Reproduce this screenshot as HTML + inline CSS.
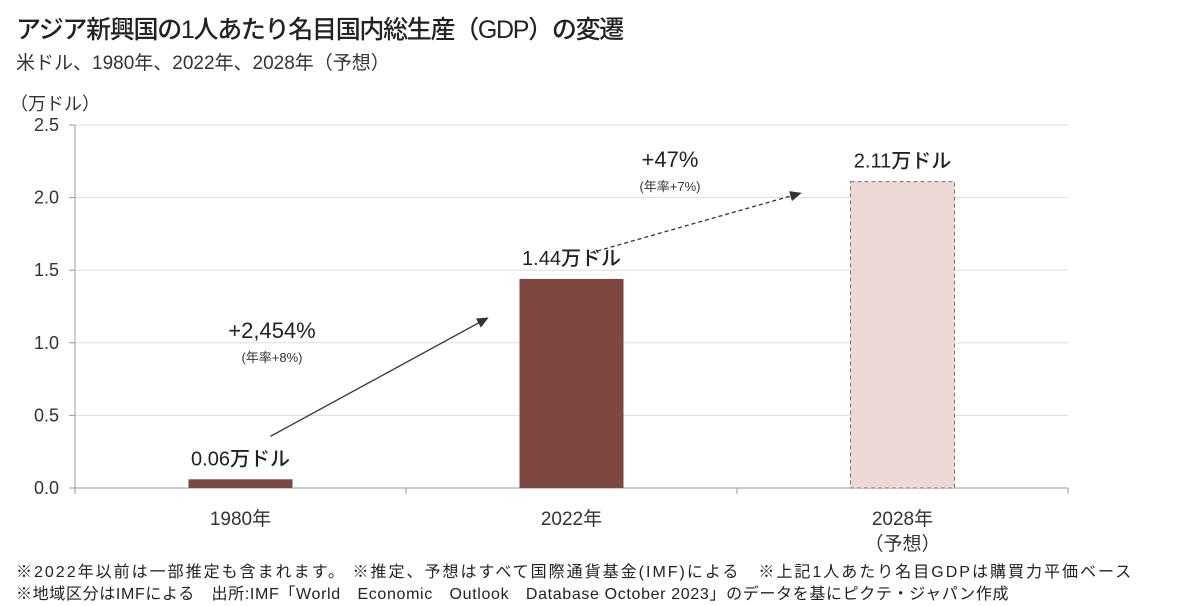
<!DOCTYPE html>
<html><head><meta charset="utf-8"><style>
body{margin:0;background:#fff;width:1200px;height:606px;overflow:hidden;font-family:"Liberation Sans","Noto Sans CJK JP",sans-serif;color:#222}
.t{position:absolute;white-space:nowrap}
</style></head><body>
<div class="t" style="left:16px;top:10px;font-size:25px;font-weight:500;letter-spacing:-1.3px">アジア新興国の1人あたり名目国内総生産（GDP）の変遷</div>
<div class="t" style="left:16px;top:48px;font-size:19px;color:#333">米ドル、1980年、2022年、2028年（予想）</div>
<div class="t" style="left:10px;top:90px;font-size:18px;color:#333">（万ドル）</div>
<svg id="c" width="1200" height="606" style="position:absolute;left:0;top:0">
<defs><marker id="ah" markerWidth="10" markerHeight="10" refX="8" refY="5" orient="auto"><path d="M0,1 L9,5 L0,9 z" fill="#333"/></marker></defs>
</svg>
<div class="t" style="left:16px;top:558px;font-size:16px;color:#222;letter-spacing:2px">※2022年以前は一部推定も含まれます。 ※推定、予想はすべて国際通貨基金(IMF)による　※上記1人あたり名目GDPは購買力平価ベース</div>
<div class="t" style="left:16px;top:580px;font-size:16px;color:#222;letter-spacing:0.65px">※地域区分はIMFによる　出所:IMF「World　Economic　Outlook　Database October 2023」のデータを基にピクテ・ジャパン作成</div>
<script>
const categories=["1980年","2022年","2028年"];
const values=[0.06,1.44,2.11];
const valueLabels=["0.06万ドル","1.44万ドル","2.11万ドル"];
const yTicks=[0,0.5,1.0,1.5,2.0,2.5];
const growthLabels=["+2,454%","+47%"];
const annualLabels=["(年率+8%)","(年率+7%)"];
const svg=document.getElementById('c');const NS="http://www.w3.org/2000/svg";
const x0=75,x1=1068,y0=488,yTop=125;
const cw=(x1-x0)/categories.length;
const y=v=>y0-(v/2.5)*(y0-yTop);
const cx=i=>x0+cw*(i+0.5);
function mk(t,a){const e=document.createElementNS(NS,t);for(const k in a)e.setAttribute(k,a[k]);svg.appendChild(e);return e;}
yTicks.forEach(v=>{
 const g=mk('line',{x1:x0,x2:x1,y1:y(v),y2:y(v),stroke:v===0?'#999':'#ddd','stroke-width':1});
 
 
 const tk=mk('line',{x1:x0-6,x2:x0,y1:y(v),y2:y(v),stroke:'#999'});
 
 
 const t=mk('text',{x:x0-16,y:y(v)+6,'text-anchor':'end','font-size':18,fill:'#333'});t.textContent=v.toFixed(1);
 
 
});
const ax=mk('line',{x1:x0,x2:x0,y1:yTop,y2:y0+6,stroke:'#999'});


categories.forEach((c,i)=>{
 const tk=mk('line',{x1:x0+cw*(i+1),x2:x0+cw*(i+1),y1:y0,y2:y0+6,stroke:'#999'});
 
 
 const bw=104,bx=cx(i)-bw/2;
 const fc=i===2;
 const b=mk('rect',{x:bx,y:y(values[i]),width:bw,height:y0-y(values[i]),fill:fc?'#ecd9d5':'#7e4840',stroke:fc?'#8a6a66':'none','stroke-dasharray':fc?'4,3':'none'});
 
 
 const l=mk('text',{x:cx(i),y:y(values[i])-14,'text-anchor':'middle','font-size':20,'font-weight':500,fill:'#222'});l.textContent=valueLabels[i];
 
 
 const xl=mk('text',{x:cx(i),y:y0+37,'text-anchor':'middle','font-size':19,fill:'#333'});xl.textContent=c;
 
 
});
const f=mk('text',{x:cx(2),y:y0+62,'text-anchor':'middle','font-size':19,fill:'#333'});f.textContent='（予想）';


const a1=mk('line',{x1:cx(0)+30,y1:y(values[0])-43,x2:cx(1)-84,y2:y(1.17),stroke:'#333','stroke-width':1.3,'marker-end':'url(#ah)'});


const a2=mk('line',{x1:cx(1)+19,y1:y(values[1])-26,x2:cx(2)-102,y2:y(2.03),stroke:'#333','stroke-width':1.3,'stroke-dasharray':'4,3','marker-end':'url(#ah)'});


[[272,338,362],[670,167,191]].forEach((p,i)=>{
 const g=mk('text',{x:p[0],y:p[1],'text-anchor':'middle','font-size':22,'font-weight':500,fill:'#222'});g.textContent=growthLabels[i];
 
 
 const r=mk('text',{x:p[0],y:p[2],'text-anchor':'middle','font-size':13,fill:'#333'});r.textContent=annualLabels[i];
 
 
});
</script>
</body></html>
